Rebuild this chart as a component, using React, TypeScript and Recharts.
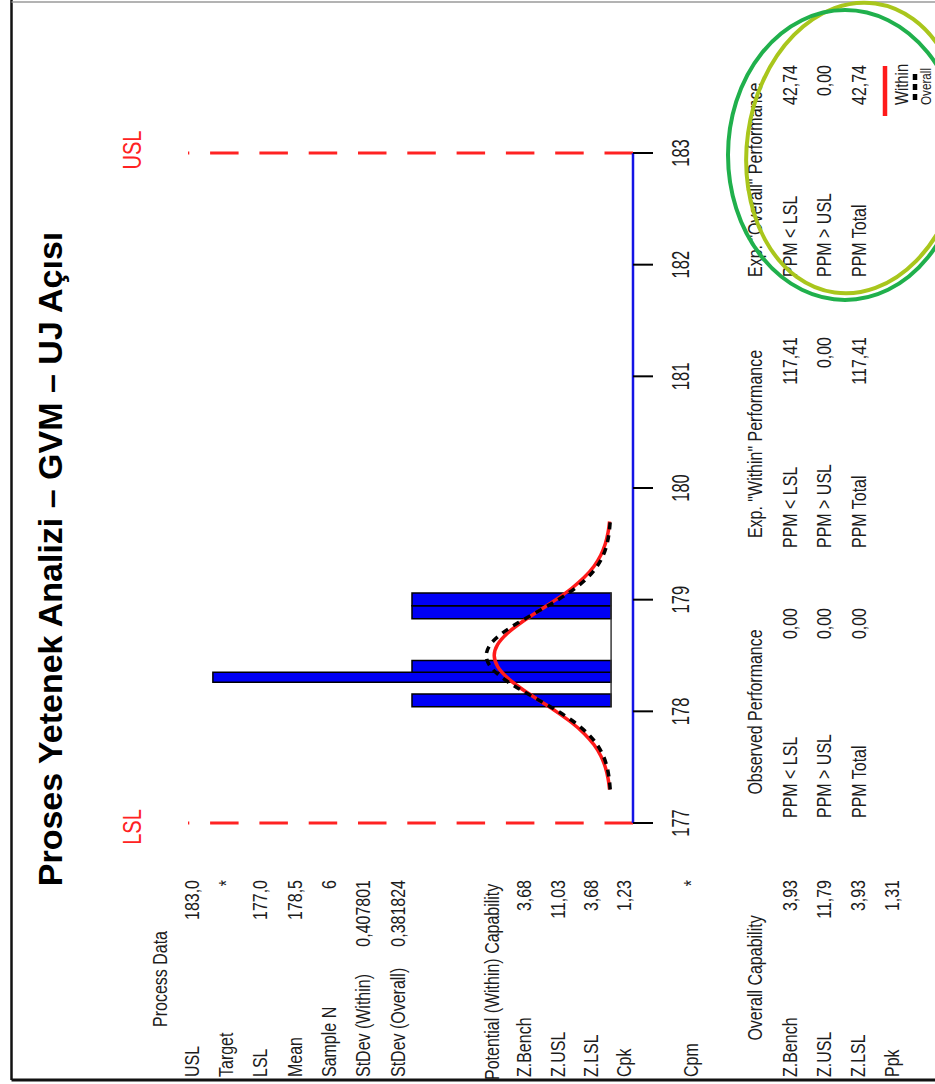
import React from "react";
import {
  ComposedChart,
  Line,
  XAxis,
  YAxis,
  ReferenceLine,
  ReferenceArea,
} from "recharts";

// histogram bins (class limits) and counts
const binStart = [178.04, 178.155, 178.26, 178.35, 178.455, 178.58, 178.705, 178.83, 178.945];
const binEnd = [178.155, 178.26, 178.35, 178.455, 178.58, 178.705, 178.83, 178.945, 179.06];
const binCount = [1, 0, 2, 1, 0, 0, 0, 1, 1];

// fitted normal curves, scaled to counts
const fitX = [
  177.3, 177.4, 177.5, 177.6, 177.7, 177.8, 177.9, 178.0, 178.1, 178.2, 178.3, 178.4, 178.5,
  178.6, 178.7, 178.8, 178.9, 179.0, 179.1, 179.2, 179.3, 179.4, 179.5, 179.6, 179.7,
];
const withinFit = [
  0.0077, 0.0154, 0.029, 0.0514, 0.0857, 0.1345, 0.1989, 0.2768, 0.3628, 0.4478, 0.5205, 0.5696, 0.587,
  0.5696, 0.5205, 0.4478, 0.3628, 0.2768, 0.1989, 0.1345, 0.0857, 0.0514, 0.029, 0.0154, 0.0077,
];
const overallFit = [
  0.0045, 0.0099, 0.0203, 0.039, 0.0698, 0.1168, 0.1824, 0.266, 0.3622, 0.4605, 0.5466, 0.6059, 0.627,
  0.6059, 0.5466, 0.4605, 0.3622, 0.266, 0.1824, 0.1168, 0.0698, 0.039, 0.0203, 0.0099, 0.0045,
];

const xTicks = [177, 178, 179, 180, 181, 182, 183];
const LSL = 177;
const USL = 183;

// stats tables
const processLabels = ["USL", "Target", "LSL", "Mean", "Sample N", "StDev (Within)", "StDev (Overall)"];
const processValues = ["183,0", "*", "177,0", "178,5", "6", "0,407801", "0,381824"];
const potentialLabels = ["Z.Bench", "Z.USL", "Z.LSL", "Cpk", "Cpm"];
const potentialValues = ["3,68", "11,03", "3,68", "1,23", "*"];
const overallCapLabels = ["Z.Bench", "Z.USL", "Z.LSL", "Ppk"];
const overallCapValues = ["3,93", "11,79", "3,93", "1,31"];
const ppmLabels = ["PPM < LSL", "PPM > USL", "PPM Total"];
const observedPpm = ["0,00", "0,00", "0,00"];
const withinPpm = ["117,41", "0,00", "117,41"];
const overallPpm = ["42,74", "0,00", "42,74"];

// layout (unrotated frame, 1084 x 935)
const W = 1084;
const H = 935;
const Y_MIN = -0.11;
const Y_MAX = 2.125;
const processRows = [192, 226, 260, 295, 329, 363, 398];
const potentialRows = [524, 558, 591, 624, 691];
const overallCapRows = [790, 824, 858, 892];
const ppmRows = [790, 824, 859];

const FONT = "'Liberation Sans', Arial, Helvetica, sans-serif";

const withinData = fitX.map((x, i) => ({ x, v: withinFit[i] }));
const overallData = fitX.map((x, i) => ({ x, v: overallFit[i] }));

type TxtProps = {
  t: string;
  x: number;
  y: number;
  a?: "start" | "middle" | "end";
  size?: number;
  sx?: number;
  fill?: string;
  weight?: number;
};

function Txt({ t, x, y, a = "start", size = 20.5, sx = 0.78, fill = "#1c1c1c", weight = 400 }: TxtProps) {
  return (
    <text
      transform={`translate(${x},${y + size * 0.36}) scale(${sx},1)`}
      textAnchor={a}
      fontSize={size}
      fontWeight={weight}
      fill={fill}
      fontFamily={FONT}
    >
      {t}
    </text>
  );
}

const AxisTick = (props: any) => {
  const { x, y, payload } = props;
  return (
    <text
      transform={`translate(${x},${y + 36}) scale(0.72,1)`}
      textAnchor="middle"
      fontSize={23}
      fill="#1c1c1c"
      fontFamily={FONT}
    >
      {payload.value}
    </text>
  );
};

function Table({ labels, values, rows, lx, vx }: { labels: string[]; values: string[]; rows: number[]; lx: number; vx: number }) {
  return (
    <g>
      {labels.map((l, i) => (
        <g key={l + i}>
          <Txt t={l} x={lx} y={rows[i]} />
          <Txt t={values[i]} x={vx} y={rows[i]} a="end" />
        </g>
      ))}
    </g>
  );
}

function CapabilityChart() {
  return (
    <ComposedChart
      width={W}
      height={H}
      margin={{ top: 188, right: 153, bottom: 242, left: 261 }}
    >
      <XAxis
        type="number"
        dataKey="x"
        domain={[LSL, USL]}
        ticks={xTicks}
        allowDataOverflow
        height={60}
        tickSize={20}
        tickMargin={0}
        axisLine={{ stroke: "#1414e6", strokeWidth: 2.5 }}
        tickLine={{ stroke: "#000", strokeWidth: 2 }}
        tick={<AxisTick />}
      />
      <YAxis hide width={0} type="number" domain={[Y_MIN, Y_MAX]} allowDataOverflow />
      <ReferenceLine
        segment={[{ x: binStart[0], y: 0 }, { x: binEnd[binEnd.length - 1], y: 0 }]}
        stroke="#3a3a3a"
        strokeWidth={1.5}
        ifOverflow="visible"
      />
      {binCount.map((c, i) =>
        c > 0 ? (
          <ReferenceArea
            key={i}
            x1={binStart[i]}
            x2={binEnd[i]}
            y1={0}
            y2={c}
            fill="#0000f5"
            fillOpacity={1}
            stroke="#000"
            strokeWidth={1.5}
            ifOverflow="visible"
          />
        ) : null
      )}
      {[LSL, USL].map((s) => (
        <ReferenceLine
          key={s}
          segment={[{ x: s, y: Y_MIN }, { x: s, y: Y_MAX }]}
          stroke="#ff2222"
          strokeWidth={3}
          strokeDasharray="28.5 20.8"
          ifOverflow="visible"
        />
      ))}
      <Line
        data={withinData}
        dataKey="v"
        type="monotone"
        stroke="#ff1a1a"
        strokeWidth={3.5}
        dot={false}
        isAnimationActive={false}
        name="Within"
      />
      <Line
        data={overallData}
        dataKey="v"
        type="monotone"
        stroke="#000"
        strokeWidth={3.5}
        strokeDasharray="7 6"
        dot={false}
        isAnimationActive={false}
        name="Overall"
      />
    </ComposedChart>
  );
}

export default function App() {
  return (
    <div
      style={{
        position: "absolute",
        left: 0,
        top: 0,
        width: 935,
        height: 1084,
        overflow: "hidden",
        background: "#fff",
      }}
    >
      <div
        style={{
          position: "absolute",
          left: 0,
          top: 0,
          width: W,
          height: H,
          transformOrigin: "0 0",
          transform: `translateY(${W}px) rotate(-90deg)`,
        }}
      >
        <div style={{ position: "absolute", left: 0, top: 0 }}>
          <CapabilityChart />
        </div>
        <svg width={W} height={H} style={{ position: "absolute", left: 0, top: 0, pointerEvents: "none" }}>
          {/* frame */}
          <line x1={4} y1={11.5} x2={W} y2={11.5} stroke="#111" strokeWidth={2.5} />
          <line x1={4} y1={11.5} x2={4} y2={H} stroke="#111" strokeWidth={3} />
          <line x1={1082} y1={11.5} x2={1082} y2={H} stroke="#9a9a9a" strokeWidth={1.5} />

          <Txt t="Proses Yetenek Analizi – GVM – UJ Açısı" x={525} y={50} a="middle" size={34} sx={1} weight={700} fill="#000" />

          <Txt t="LSL" x={257} y={132} a="middle" size={25} sx={0.8} fill="#ff2222" />
          <Txt t="USL" x={934} y={132} a="middle" size={25} sx={0.8} fill="#ff2222" />

          {/* legend */}
          <line x1={968} y1={885} x2={1018} y2={885} stroke="#ff1a1a" strokeWidth={4.5} />
          <Txt t="Within" x={979} y={901} size={19} />
          <line x1={984} y1={915} x2={1014} y2={915} stroke="#000" strokeWidth={4.5} strokeDasharray="6 4" />
          <Txt t="Overall" x={979} y={926} size={15} />

          <Txt t="Process Data" x={105} y={160} a="middle" />
          <Table labels={processLabels} values={processValues} rows={processRows} lx={7} vx={204} />

          <Txt t="Potential (Within) Capability" x={4} y={492} />
          <Table labels={potentialLabels} values={potentialValues} rows={potentialRows} lx={7} vx={204} />

          <Txt t="Overall Capability" x={106} y={755} a="middle" />
          <Table labels={overallCapLabels} values={overallCapValues} rows={overallCapRows} lx={7} vx={204} />

          <Txt t="Observed Performance" x={372} y={755} a="middle" />
          <Table labels={ppmLabels} values={observedPpm} rows={ppmRows} lx={266} vx={476} />

          <Txt t={'Exp. "Within" Performance'} x={640} y={755} a="middle" />
          <Table labels={ppmLabels} values={withinPpm} rows={ppmRows} lx={536} vx={747} />

          <Txt t={'Exp. "Overall" Performance'} x={807} y={755} />
          <Table labels={ppmLabels} values={overallPpm} rows={ppmRows} lx={807} vx={1019} />
        </svg>
      </div>
      {/* hand-drawn highlight round the overall PPM block */}
      <svg width={935} height={1084} style={{ position: "absolute", left: 0, top: 0, pointerEvents: "none" }}>
        <ellipse cx={855} cy={148} rx={108} ry={146} fill="none" stroke="#a9c61c" strokeWidth={4} transform="rotate(8 855 148)" />
        <ellipse cx={845} cy={155} rx={117} ry={145} fill="none" stroke="#20b04c" strokeWidth={4} />
      </svg>
    </div>
  );
}
